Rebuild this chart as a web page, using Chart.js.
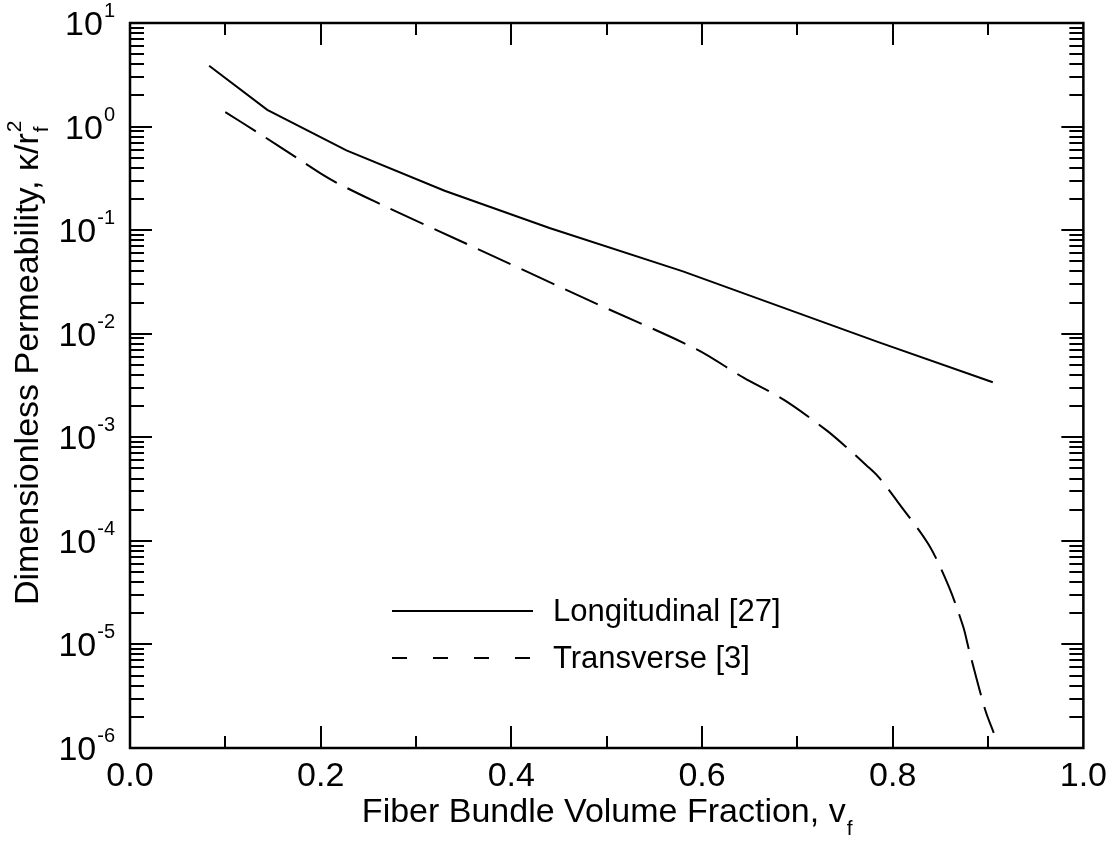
<!DOCTYPE html>
<html>
<head>
<meta charset="utf-8">
<script src="https://cdn.jsdelivr.net/npm/chart.js@4.4.0/dist/chart.umd.min.js"></script>
<style>html,body{margin:0;padding:0;background:#fff}</style>
</head>
<body>
<canvas id="myChart" width="1115" height="841"></canvas>
<script>
// data
let longX = [0.083, 0.144, 0.227, 0.33, 0.44, 0.58, 0.785, 0.905];
let longY = [3.87, 1.45, 0.59, 0.24, 0.105, 0.040, 0.0083, 0.0034];
let transX = [0.10, 0.133, 0.175, 0.199, 0.217, 0.26, 0.35, 0.485, 0.594, 0.644, 0.686, 0.73, 0.751, 0.772, 0.785, 0.806, 0.838, 0.859, 0.874, 0.88, 0.897, 0.906];
let transY = [1.38, 0.887, 0.498, 0.357, 0.286, 0.183, 0.076, 0.0203, 0.0071, 0.00374, 0.0023, 0.00118, 0.00081, 0.00054, 0.000415, 0.000233, 0.000091, 0.000036, 0.0000148, 0.0000089, 0.00000234, 0.0000014];
let labels = ['Longitudinal [27]', 'Transverse [3]'];
let yExponents = [-6, -5, -4, -3, -2, -1, 0, 1];

let font = 'Arial, "Liberation Sans", sans-serif';
let toPoints = (xs, ys) => xs.map((x, i) => ({x: x, y: ys[i]}));

// frame, inward ticks, superscript labels, titles and legend
let decorations = {
    id: 'decorations',
    afterDraw(chart) {
        let c = chart.ctx;
        let a = chart.chartArea;
        let xs = chart.scales.x;
        let ys = chart.scales.y;
        c.save();
        c.strokeStyle = '#000';
        c.fillStyle = '#000';

        // ticks
        c.lineWidth = 2;
        c.beginPath();
        for (let i = 1; i < 10; i++) {
            let px = Math.round(xs.getPixelForValue(i / 10));
            let len = i % 2 === 0 ? 22 : 12;
            c.moveTo(px, a.bottom); c.lineTo(px, a.bottom - len);
            c.moveTo(px, a.top); c.lineTo(px, a.top + len);
        }
        yExponents.forEach(k => {
            for (let m = 1; m < 10; m++) {
                if (k === 1 && m > 1) continue;
                let py = Math.round(ys.getPixelForValue(m * Math.pow(10, k)));
                let len = m === 1 ? 22 : 14;
                c.moveTo(a.left, py); c.lineTo(a.left + len, py);
                c.moveTo(a.right, py); c.lineTo(a.right - len, py);
            }
        });
        c.stroke();

        // frame
        c.lineWidth = 2.5;
        c.strokeRect(a.left, a.top, a.right - a.left, a.bottom - a.top);

        // y tick labels 10^k
        yExponents.forEach(k => {
            let py = ys.getPixelForValue(Math.pow(10, k));
            c.textAlign = 'right';
            c.textBaseline = 'alphabetic';
            c.font = '20px ' + font;
            let e = String(k);
            let ew = c.measureText(e).width;
            c.fillText(e, 115, py - 6);
            c.font = '34px ' + font;
            c.fillText('10', 115 - ew - 1, py + 12);
        });

        // x title
        c.textAlign = 'left';
        c.textBaseline = 'alphabetic';
        let xt = 'Fiber Bundle Volume Fraction, v';
        c.font = '34px ' + font;
        let w1 = c.measureText(xt).width;
        c.font = '21px ' + font;
        let w2 = c.measureText('f').width;
        let x0 = (a.left + a.right) / 2 - (w1 + w2) / 2;
        c.font = '34px ' + font;
        c.fillText(xt, x0, 822);
        c.font = '21px ' + font;
        c.fillText('f', x0 + w1 + 1, 835);

        // y title
        c.translate(38, 605);
        c.rotate(-Math.PI / 2);
        let yt = 'Dimensionless Permeability, \u03ba/r';
        c.font = '34px ' + font;
        c.fillText(yt, 0, 0);
        let w3 = c.measureText(yt).width;
        c.font = '21px ' + font;
        c.fillText('f', w3 + 1, 10);
        c.fillText('2', w3 + 1, -17);
        c.setTransform(1, 0, 0, 1, 0, 0);

        // legend
        let rows = [611, 658];
        let dashes = [[], [15, 26]];
        rows.forEach((ry, i) => {
            c.lineWidth = 2;
            c.setLineDash(dashes[i]);
            c.beginPath();
            c.moveTo(392, ry); c.lineTo(533, ry);
            c.stroke();
            c.setLineDash([]);
            c.font = '31px ' + font;
            c.textBaseline = 'middle';
            c.fillText(labels[i], 553, ry + 1);
        });
        c.restore();
    }
};

let ctx = document.getElementById('myChart').getContext('2d');
let myChart = new Chart(ctx, {
    type: 'line',
    data: {
        datasets: [{
            label: labels[0],
            data: toPoints(longX, longY),
            borderColor: '#000',
            borderWidth: 2,
            pointRadius: 0,
            tension: 0
        }, {
            label: labels[1],
            data: toPoints(transX, transY),
            borderColor: '#000',
            borderWidth: 2,
            borderDash: [36, 12],
            pointRadius: 0,
            tension: 0.3
        }]
    },
    options: {
        responsive: false,
        animation: false,
        devicePixelRatio: 1,
        layout: {padding: {top: 23, right: 30, left: 0, bottom: 0}},
        plugins: {legend: {display: false}, tooltip: {enabled: false}},
        scales: {
            x: {
                type: 'linear',
                min: 0,
                max: 1,
                afterFit: (s) => { s.height = 93; },
                grid: {display: false, drawTicks: false},
                border: {display: false},
                ticks: {
                    stepSize: 0.2,
                    padding: 8,
                    color: '#000',
                    font: {family: font, size: 34},
                    callback: (v) => v.toFixed(1)
                }
            },
            y: {
                type: 'logarithmic',
                min: 1e-6,
                max: 10,
                afterFit: (s) => { s.width = 130; },
                grid: {display: false, drawTicks: false},
                border: {display: false},
                ticks: {display: false}
            }
        }
    },
    plugins: [decorations]
});
</script>
</body>
</html>
